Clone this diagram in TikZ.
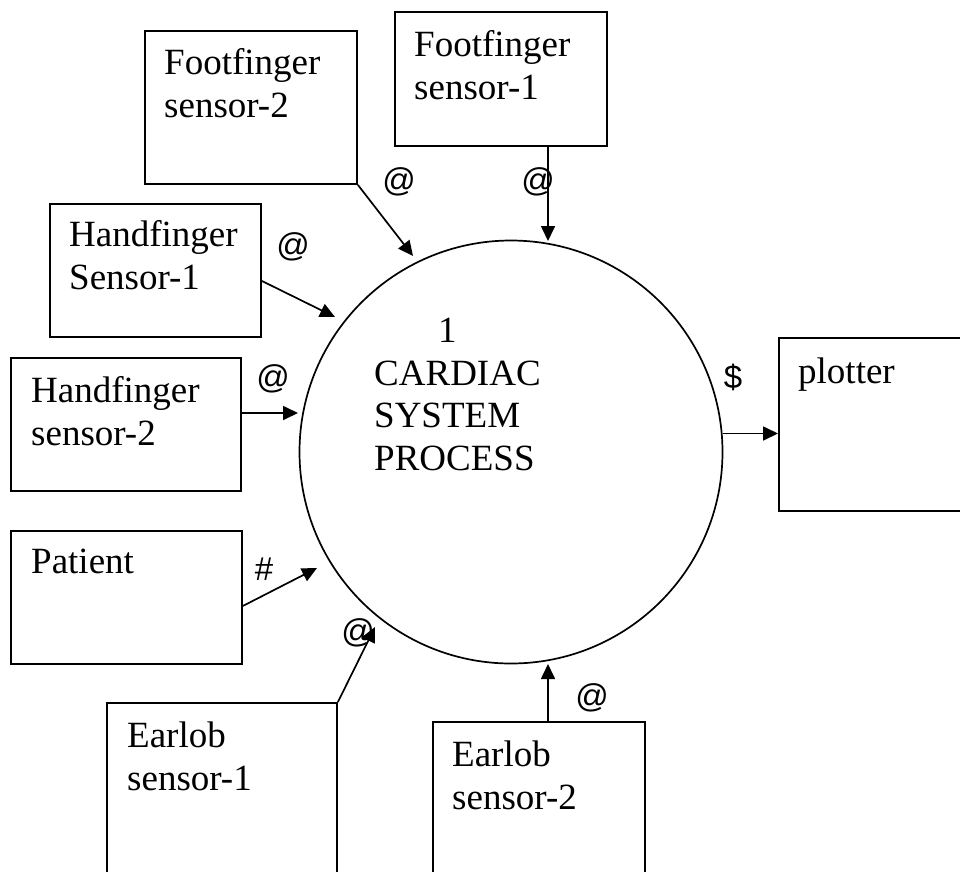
\documentclass[tikz,border=0pt]{standalone}
\usepackage{fontspec}
\setmainfont{Liberation Serif}
\newfontfamily\flowfont{Liberation Sans}
\usetikzlibrary{arrows.meta}
\begin{document}
\begin{tikzpicture}[x=1pt,y=-1pt,
  entity/.style={draw, line width=1.9pt, rectangle, anchor=north west, inner sep=0pt},
  % base west of a multi-line caption sits on its last line
  caption/.style={anchor=base west, align=left, inner sep=0pt, font=\fontsize{37}{42.5}\selectfont},
  flowmark/.style={inner sep=0pt, font=\flowfont\fontsize{33}{36}\selectfont},
  flow/.style={line width=1.7pt, -{Triangle[length=15pt,width=14pt]}}]
\useasboundingbox (0,0) rectangle (960,871);
\clip (0,0) rectangle (960,871);
\fill[white] (0,0) rectangle (960,871);

% central process
\node[draw, circle, line width=1.7pt, minimum size=423pt, inner sep=0pt] (proc) at (511,452) {};
\node[caption] (proctext) at (374,470) {\hspace{64pt}1\\CARDIAC\\SYSTEM\\PROCESS};

% external entities
\node[entity, minimum width=212pt, minimum height=153pt] (fs2) at (144,30) {};
\node[caption] (fs2text) at (164,117) {Footfinger\\sensor-2};

\node[entity, minimum width=212pt, minimum height=134pt] (fs1) at (394,11) {};
\node[caption] (fs1text) at (414,99) {Footfinger\\sensor-1};

\node[entity, minimum width=211pt, minimum height=133pt] (hs1) at (49,203) {};
\node[caption] (hs1text) at (69,289) {Handfinger\\Sensor-1};

\node[entity, minimum width=230pt, minimum height=133pt] (hs2) at (10,357) {};
\node[caption] (hs2text) at (31,445) {Handfinger\\sensor-2};

\node[entity, minimum width=231pt, minimum height=133pt] (pat) at (10,530) {};
\node[caption] (pattext) at (31,573) {Patient};

\node[entity, minimum width=230pt, minimum height=200pt] (ear1) at (106,702) {};
\node[caption] (ear1text) at (127,790) {Earlob\\sensor-1};

\node[entity, minimum width=212pt, minimum height=200pt] (ear2) at (432,721) {};
\node[caption] (ear2text) at (452,809) {Earlob\\sensor-2};

\node[entity, minimum width=200pt, minimum height=173pt] (plot) at (778,337) {};
\node[caption] (plottext) at (798,383) {plotter};

% arrow ends near the circle
\coordinate (tfs2) at (413,256);
\coordinate (tfs1) at (548,241);
\coordinate (ths1) at (335,317);
\coordinate (ths2) at (298,413);
\coordinate (tpat) at (317,568);
\coordinate (tear1) at (375,627);
\coordinate (tear2) at (548,664);

% data flows
\draw[flow] (fs2.south east) -- (tfs2);
\draw[flow] (tfs1 |- fs1.south) -- (tfs1);
\draw[flow] ([yshift=-10.5pt]hs1.east) -- (ths1);
\draw[flow] (hs2.east |- ths2) -- (ths2);
\draw[flow] ([yshift=-8.5pt]pat.east) -- (tpat);
\draw[flow] (ear1.north east) -- (tear1);
\draw[flow] (tear2 |- ear2.north) -- (tear2);
\draw[flow] (proc.5) -- (plot.west |- proc.5);

% flow labels
\node[flowmark] (m1) at (399,182) {@};
\node[flowmark] (m2) at (538,182) {@};
\node[flowmark] (m3) at (293,247) {@};
\node[flowmark] (m4) at (273,379) {@};
\node[flowmark] (m5) at (264,569) {\#};
\node[flowmark] (m6) at (358,633) {@};
\node[flowmark] (m7) at (592,698) {@};
\node[flowmark] (m8) at (733,377) {\$};
\end{tikzpicture}
\end{document}
